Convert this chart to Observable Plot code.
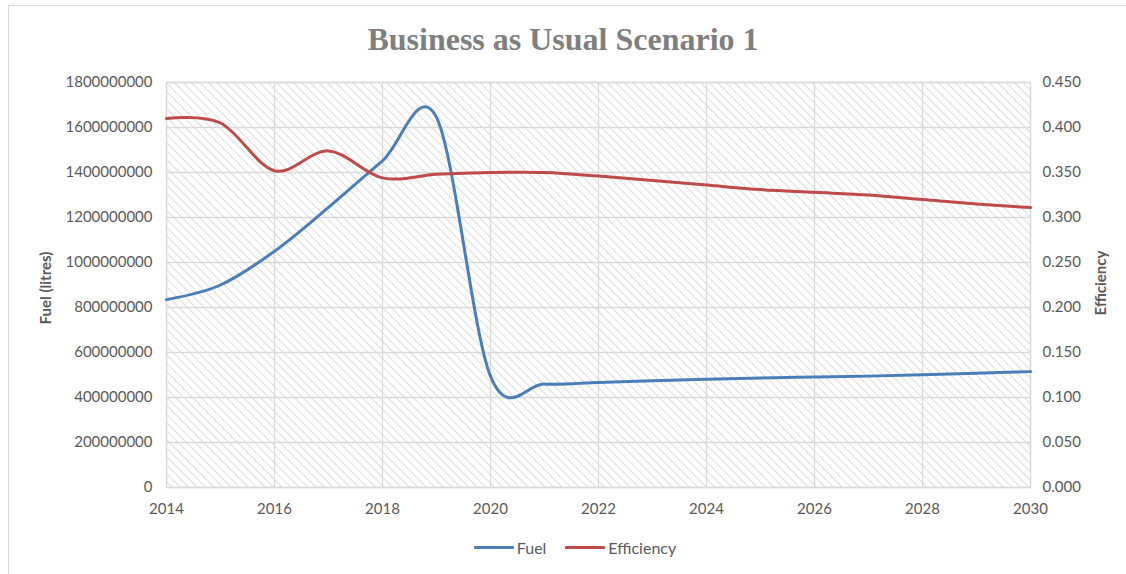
<!DOCTYPE html>
<html>
<head>
<meta charset="utf-8">
<script src="https://cdn.jsdelivr.net/npm/d3@7"></script>
<script src="https://cdn.jsdelivr.net/npm/@observablehq/plot@0.6"></script>
<style>
  body { margin: 0; background: #fff; }
  #wrap { position: relative; width: 1126px; height: 574px; overflow: hidden; background:#fff; }
  #border { position: absolute; left: 8px; top: 5px; width: 1200px; height: 600px; border-left: 1px solid #d9d9d9; border-top: 1px solid #d9d9d9; }
  #title { position: absolute; top: 23px; left: 0; width: 1126px; text-align: center; font-family: "Liberation Serif", serif; font-weight: bold; font-size: 32px; line-height: 1; color: #7f7f7f; }
  #chart { position: absolute; left: 0; top: 70px; }
  #legend { position: absolute; top: 538px; left: 12px; width: 1126px; display: flex; justify-content: center; gap: 19px; font-family: Lato, sans-serif; font-size: 16px; color: #595959; }
  .item { display: flex; align-items: center; gap: 3px; }
  .sw { width: 40px; height: 3px; display: inline-block; border-radius: 1px; }
</style>
</head>
<body>
<div id="wrap">
  <div id="border"></div>
  <div id="title">Business as Usual Scenario 1</div>
  <div id="chart"></div>
  <div id="legend"></div>
</div>
<script>
const years = [2014,2015,2016,2017,2018,2019,2020,2021,2022,2023,2024,2025,2026,2027,2028,2029,2030];
const fuel = [835e6, 900e6, 1050e6, 1245e6, 1452e6, 1645e6, 495e6, 460e6, 467e6, 474e6, 481e6, 487e6, 491e6, 495e6, 501e6, 508e6, 515e6];
const efficiency = [0.410, 0.405, 0.352, 0.374, 0.344, 0.348, 0.350, 0.350, 0.346, 0.341, 0.336, 0.331, 0.328, 0.325, 0.320, 0.315, 0.311];
const leftTicks = [0,200e6,400e6,600e6,800e6,1000e6,1200e6,1400e6,1600e6,1800e6];
const xTicks = [2014,2016,2018,2020,2022,2024,2026,2028,2030];
const seriesNames = ["Fuel", "Efficiency"];
const seriesColors = ["#4a7ebb", "#be4b48"];

const ratio = 1.8e9 / 0.45;
const rows = years.map((y, i) => ({year: y, fuel: fuel[i], eff: efficiency[i]}));

const plot = Plot.plot({
  width: 1126,
  height: 457,
  marginLeft: 166,
  marginRight: 96,
  marginTop: 12,
  marginBottom: 40,
  style: {fontFamily: "Lato, sans-serif", fontSize: "15px", color: "#595959", background: "transparent"},
  x: {domain: [2014, 2030]},
  y: {domain: [0, 1.8e9]},
  marks: [
    Plot.frame({fill: "url(#hatch)", stroke: null}),
    Plot.gridX(xTicks, {stroke: "#d9d9d9", strokeOpacity: 1, strokeWidth: 1.3}),
    Plot.gridY(leftTicks, {stroke: "#d9d9d9", strokeOpacity: 1, strokeWidth: 1.3}),
    Plot.frame({stroke: "#d9d9d9", strokeWidth: 1.3}),
    Plot.axisX(xTicks, {tickSize: 0, tickPadding: 16, tickFormat: d => String(d), label: null, fill: "#595959"}),
    Plot.axisY(leftTicks, {anchor: "left", tickSize: 0, tickPadding: 14, tickFormat: d => String(d), label: null, fill: "#595959"}),
    Plot.axisY(leftTicks, {anchor: "right", tickSize: 0, tickPadding: 12, tickFormat: d => (d / ratio).toFixed(3), label: null, fill: "#595959"}),
    Plot.line(rows, {x: "year", y: "fuel", stroke: seriesColors[0], strokeWidth: 3, curve: "cardinal", tension: 0}),
    Plot.line(rows, {x: "year", y: d => d.eff * ratio, stroke: seriesColors[1], strokeWidth: 3, curve: "cardinal", tension: 0})
  ]
});

// hatch pattern
const ns = "http://www.w3.org/2000/svg";
const defs = document.createElementNS(ns, "defs");
defs.innerHTML = `<pattern id="hatch" patternUnits="userSpaceOnUse" width="6" height="6" patternTransform="rotate(-45)">
  <rect width="6" height="6" fill="#ffffff"/>
  <line x1="0" y1="0" x2="0" y2="6" stroke="#d4d4d4" stroke-width="1.6"/>
</pattern>`;
plot.insertBefore(defs, plot.firstChild);

// axis titles
function axisTitle(x, y, txt) {
  const t = document.createElementNS(ns, "text");
  t.setAttribute("transform", `translate(${x},${y}) rotate(-90)`);
  t.setAttribute("text-anchor", "middle");
  t.setAttribute("style", "font: bold 15px Lato, sans-serif; fill: #595959;");
  t.textContent = txt;
  plot.appendChild(t);
}
axisTitle(51, 218, "Fuel (litres)");
axisTitle(1106, 213, "Efficiency");

document.getElementById("chart").appendChild(plot);

const legend = document.getElementById("legend");
seriesNames.forEach((n, i) => {
  const it = document.createElement("div");
  it.className = "item";
  it.innerHTML = `<span class="sw" style="background:${seriesColors[i]}"></span><span>${n}</span>`;
  legend.appendChild(it);
});
</script>
</body>
</html>
